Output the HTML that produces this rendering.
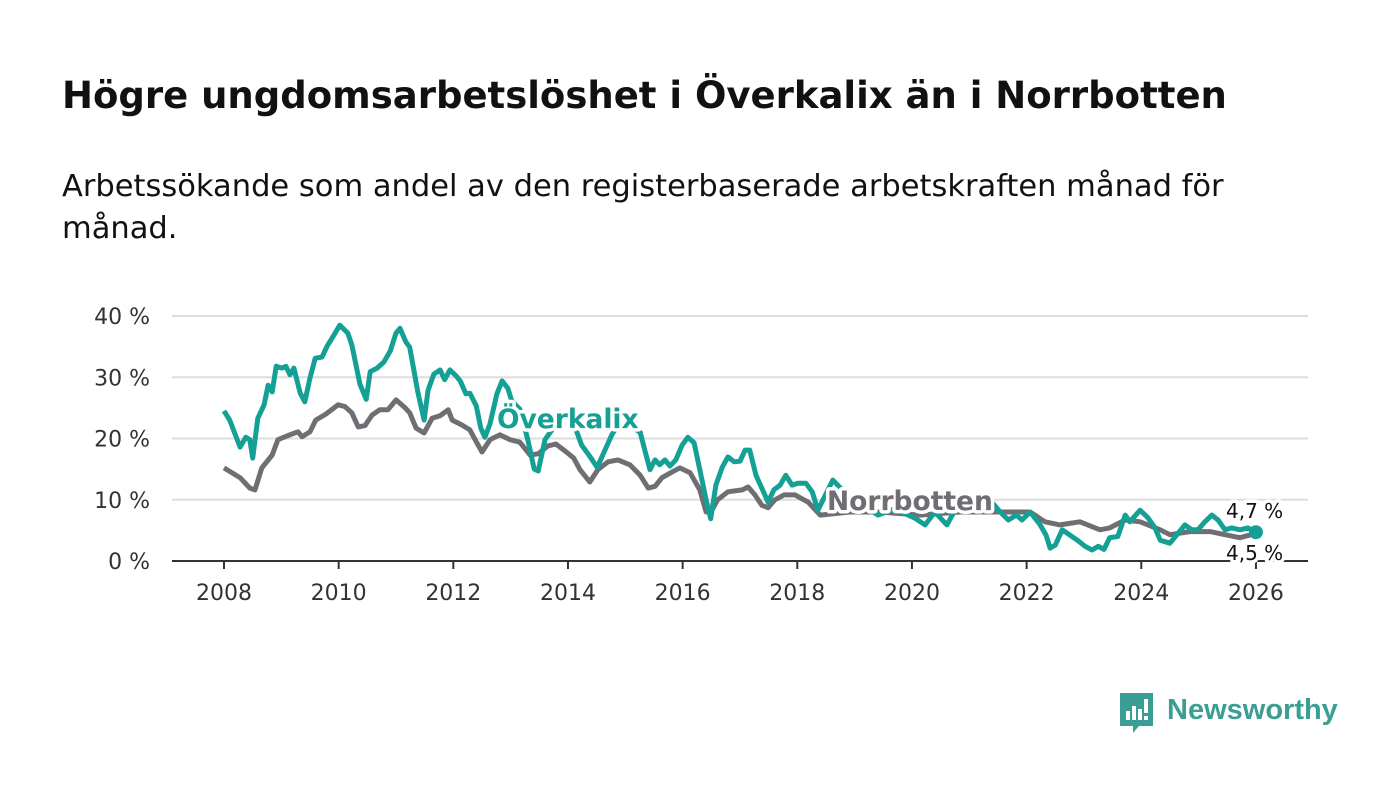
<!DOCTYPE html>
<html><head><meta charset="utf-8"><style>
body{margin:0;background:#fff;width:1400px;height:794px;overflow:hidden;font-family:"Liberation Sans",sans-serif;}
svg text{font-family:"DejaVu Sans","Liberation Sans",sans-serif;}
svg text.lib{font-family:"Liberation Sans",sans-serif;}
</style></head><body>
<svg width="1400" height="794">
<text x="62" y="108" font-size="37" font-weight="bold" fill="#111">Högre ungdomsarbetslöshet i Överkalix än i Norrbotten</text>
<text x="62" y="196" font-size="30.5" fill="#111">Arbetssökande som andel av den registerbaserade arbetskraften månad för</text>
<text x="62" y="238" font-size="30.5" fill="#111">månad.</text>
<g id="grid"></g><g id="xaxis"></g><g id="lines"></g><g id="labels"></g>
<g>
<path d="M1120 693 h33 v33 h-14 l-6 7 v-7 h-13 z" fill="#3a9e94"/>
<rect x="1126" y="711" width="4" height="9" fill="#fff"/><rect x="1132" y="706" width="4" height="14" fill="#fff"/><rect x="1138" y="709" width="4" height="11" fill="#fff"/><rect x="1144" y="699" width="4" height="14" fill="#fff"/><rect x="1144" y="716" width="4" height="4" fill="#fff"/>
<text class="lib" x="1167" y="719" font-size="29" font-weight="bold" fill="#3a9e94">Newsworthy</text>
</g>
</svg>
<script>
const yTicks=[0,10,20,30,40];
const xTicks=[2008,2010,2012,2014,2016,2018,2020,2022,2024,2026];
const okYears=[0,.1,.28,.38,.45,.5,.59,.7,.77,.84,.91,1.01,1.08,1.15,1.22,1.33,1.41,1.5,1.59,1.71,1.8,1.9,2.02,2.16,2.23,2.37,2.48,2.55,2.67,2.79,2.9,3,3.07,3.17,3.24,3.38,3.49,3.56,3.66,3.77,3.85,3.94,4.05,4.12,4.22,4.29,4.4,4.48,4.55,4.64,4.76,4.85,4.95,5.02,5.16,5.3,5.41,5.48,5.6,5.72,5.86,5.93,6.04,6.14,6.24,6.38,6.51,6.63,6.77,6.91,7.01,7.12,7.26,7.34,7.43,7.52,7.6,7.69,7.78,7.88,7.99,8.09,8.2,8.3,8.41,8.49,8.58,8.69,8.79,8.9,9,9.09,9.17,9.28,9.38,9.49,9.59,9.7,9.8,9.91,10.01,10.15,10.26,10.36,10.62,10.9,11.16,11.41,11.69,12.05,12.23,12.4,12.61,12.82,13.12,13.36,13.54,13.68,13.82,13.92,14.06,14.23,14.34,14.41,14.5,14.62,14.76,14.9,15.02,15.14,15.25,15.35,15.45,15.59,15.72,15.8,15.98,16.12,16.24,16.33,16.5,16.64,16.76,16.88,16.99,17.11,17.23,17.34,17.46,17.58,17.72,17.86,18];
const okValues=[24.5,23,18.6,20.2,19.8,16.8,23.3,25.5,28.7,27.6,31.8,31.5,31.8,30.4,31.5,27.4,26,29.9,33.1,33.3,35.1,36.6,38.5,37.2,35.3,28.9,26.4,30.9,31.5,32.5,34.3,37.2,38,35.8,34.9,27.6,23,27.9,30.5,31.2,29.6,31.2,30.2,29.4,27.3,27.4,25.3,21.7,20.2,22.4,27.3,29.4,28.2,26.1,24.8,19.8,15,14.7,19.8,21.4,24.3,23.7,23,21.4,18.9,17.1,15.3,17.8,20.7,22.7,23,21.9,21,18.1,14.9,16.5,15.7,16.5,15.5,16.5,18.9,20.2,19.3,14.9,10,6.9,12.4,15.3,17,16.2,16.3,18.1,18.1,14,11.9,9.6,11.6,12.4,14,12.4,12.7,12.7,11.3,8.3,13.2,10.5,9,7.5,8.5,7,5.9,8,5.9,9.5,10,10,8,6.7,7.5,6.7,8,6,4.2,2.1,2.6,5.1,4.2,3.3,2.4,1.8,2.4,1.9,3.8,4,7.5,6.4,8.3,7,5.4,3.4,2.9,4.5,5.9,5.1,5.1,6.4,7.5,6.7,5.1,5.4,5.1,5.4,4.7];
const nbYears=[0,.28,.45,.54,.66,.84,.94,1.15,1.29,1.36,1.5,1.6,1.78,1.99,2.11,2.23,2.34,2.46,2.58,2.72,2.86,3,3.16,3.24,3.35,3.49,3.63,3.77,3.91,3.98,4.15,4.29,4.38,4.5,4.64,4.81,4.99,5.16,5.34,5.48,5.65,5.79,5.97,6.1,6.21,6.38,6.52,6.7,6.87,7.08,7.26,7.4,7.52,7.64,7.81,7.95,8.13,8.3,8.41,8.51,8.61,8.79,9.04,9.14,9.26,9.38,9.49,9.61,9.77,9.96,10.19,10.4,10.92,11.44,12.14,12.84,13.36,13.54,14.06,14.32,14.58,14.93,15.28,15.45,15.72,15.98,16.33,16.5,16.85,17.2,17.46,17.72,18];
const nbValues=[15.2,13.6,11.9,11.6,15.2,17.3,19.8,20.6,21.1,20.3,21.1,23,24,25.5,25.2,24.2,21.9,22.1,23.8,24.7,24.7,26.3,25,24.2,21.7,20.9,23.3,23.7,24.7,23,22.2,21.4,19.8,17.8,19.8,20.6,19.8,19.4,17.3,17.5,18.8,19.1,17.8,16.8,14.9,12.9,14.9,16.2,16.5,15.7,14,11.9,12.2,13.6,14.5,15.2,14.4,11.6,8,8.3,10,11.3,11.6,12.1,10.8,9.1,8.7,10,10.8,10.8,9.6,7.5,8,8,7.5,8,8,8,8,6.4,5.9,6.4,5.1,5.4,6.7,6.4,5.1,4.3,4.8,4.8,4.3,3.8,4.5];
const NS='http://www.w3.org/2000/svg';
const X=y=>224+(y-2008)*57.33, Y=v=>561-v*6.125;
function mk(t,a,p){const e=document.createElementNS(NS,t);for(const k in a)e.setAttribute(k,a[k]);p.appendChild(e);return e;}
const grid=document.getElementById('grid');
yTicks.forEach(v=>{
 const l=mk('line',{x1:172,x2:1308,y1:Y(v),y2:Y(v),stroke:v===0?'#333':'#ddd','stroke-width':2},grid);
 
 
 const t=mk('text',{x:150,y:Y(v)+8,'font-size':22,fill:'#333','text-anchor':'end'},grid);t.textContent=v+' %';
 
 
});
const xa=document.getElementById('xaxis');
xTicks.forEach(yr=>{
 mk('line',{x1:X(yr),x2:X(yr),y1:561,y2:569,stroke:'#333','stroke-width':2},xa);
 const t=mk('text',{x:X(yr),y:600,'font-size':22,fill:'#333','text-anchor':'middle'},xa);t.textContent=yr;
 
 
});
const lg=document.getElementById('lines');
function line(ys,vs,c,name){
 const d=ys.map((y,i)=>(i?'L':'M')+X(2008+y).toFixed(1)+' '+Y(vs[i]).toFixed(1)).join(' ');
 const p=mk('path',{d:d,fill:'none',stroke:c,'stroke-width':5,'stroke-linejoin':'round'},lg);
 
 
}
line(nbYears,nbValues,'#6f6e73','norrbotten-line');
line(okYears,okValues,'#15a096','overkalix-line');
const dot=mk('circle',{cx:X(2008+okYears[okYears.length-1]),cy:Y(okValues[okValues.length-1]),r:7,fill:'#15a096'},lg);


const lb=document.getElementById('labels');
function lab(x,y,txt,c,fs,fw,name){
 const t=mk('text',{x:x,y:y,'font-size':fs,'font-weight':fw,fill:c,stroke:'#fff','stroke-width':7,'paint-order':'stroke','stroke-linejoin':'round'},lb);t.textContent=txt;
 
 
}
lab(497,428,'Överkalix','#15a096',26.5,'bold','overkalix-label');
lab(827,510,'Norrbotten','#6f6e73',26.5,'bold','norrbotten-label');
lab(1226,518,'4,7 %','#111',20,'normal','overkalix-end-value');
lab(1226,560,'4,5 %','#111',20,'normal','norrbotten-end-value');
</script>
</body></html>
